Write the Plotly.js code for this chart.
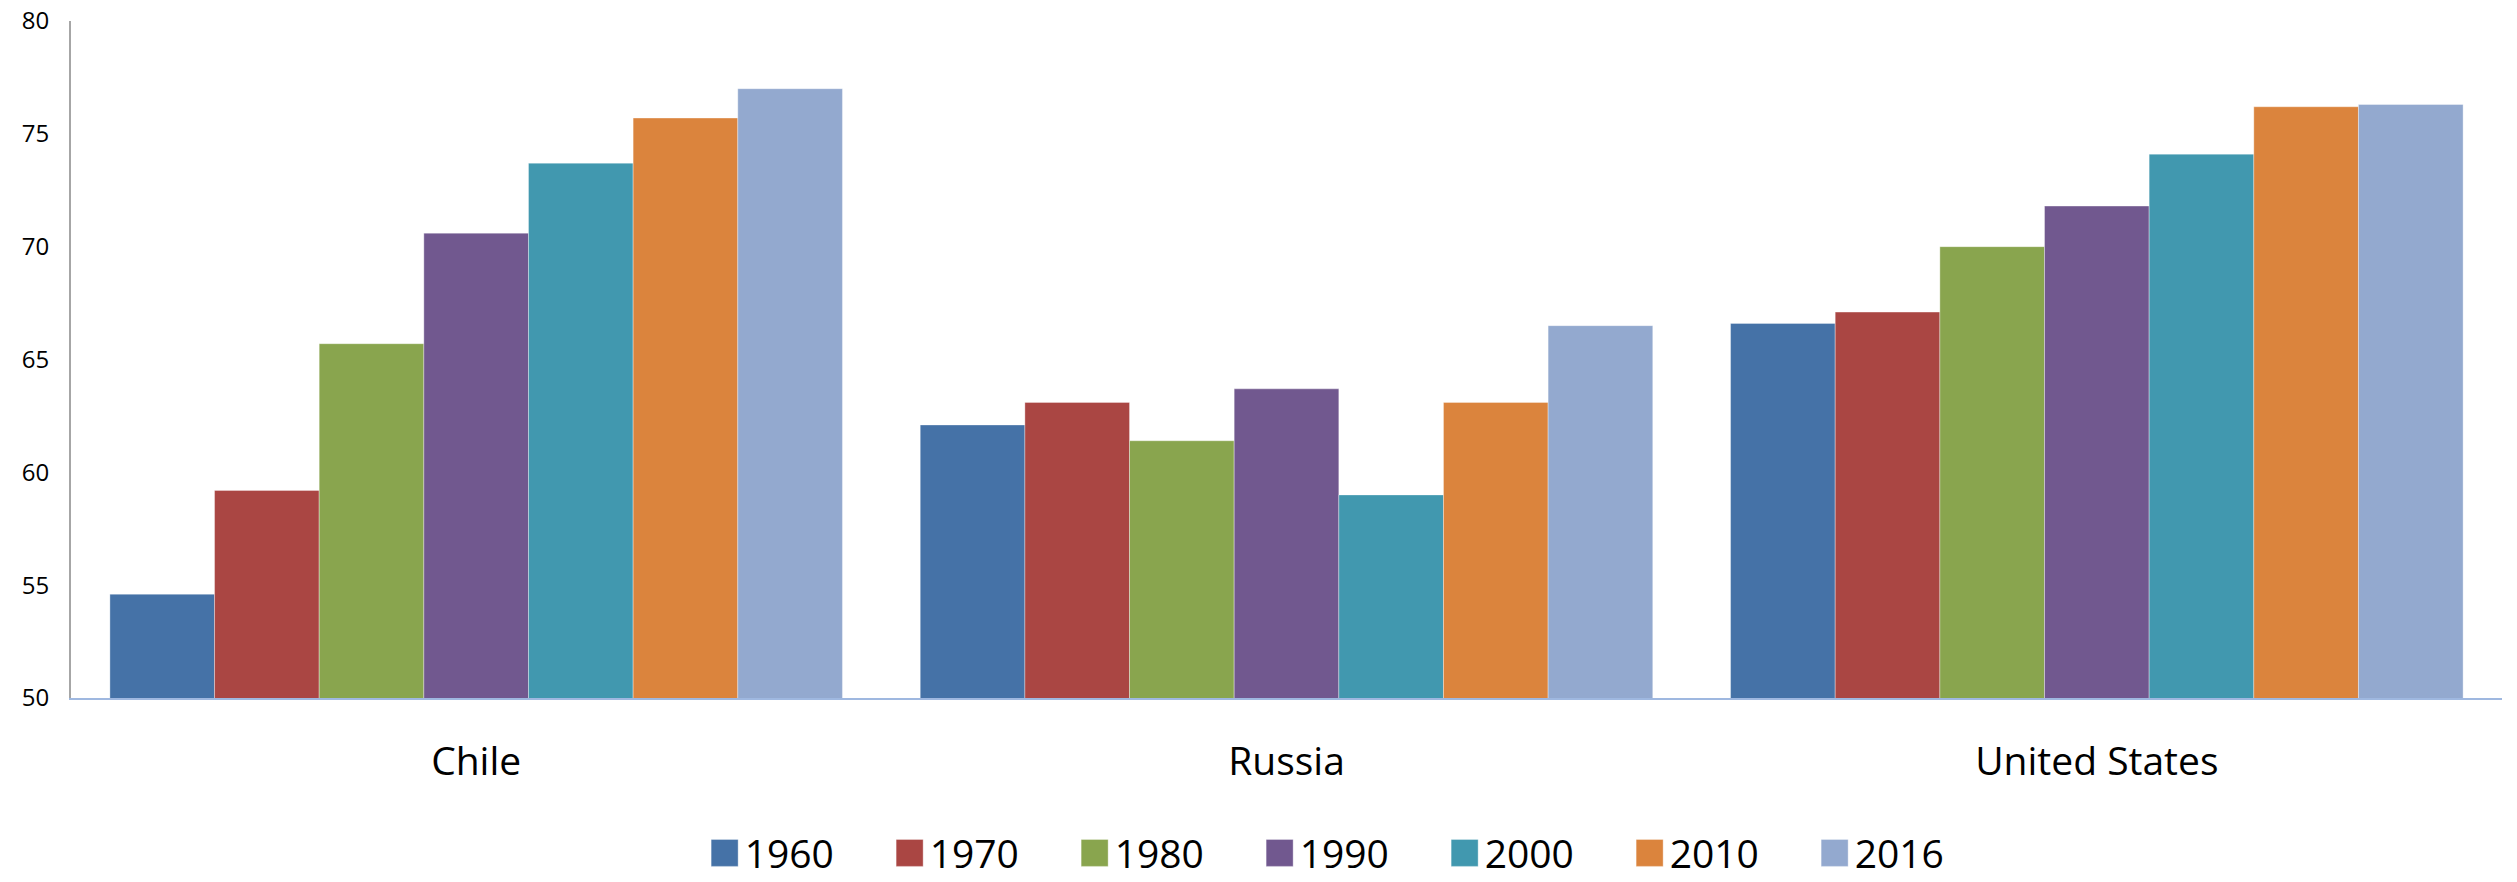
<!DOCTYPE html>
<html>
<head>
<meta charset="utf-8">
<script src="https://cdn.plot.ly/plotly-3.0.1.min.js"></script>
<style>
  html, body { margin: 0; padding: 0; background: #ffffff; }
  #chart { width: 2517px; height: 882px; }
</style>
</head>
<body>
<div id="chart"></div>
<script>
// Categories
const countries = ["Chile", "Russia", "United States"];
// Series (life expectancy, years) per decade
const years = ["1960", "1970", "1980", "1990", "2000", "2010", "2016"];
const v1960 = [54.6, 62.1, 66.6];
const v1970 = [59.2, 63.1, 67.1];
const v1980 = [65.7, 61.4, 70.0];
const v1990 = [70.6, 63.7, 71.8];
const v2000 = [73.7, 59.0, 74.1];
const v2010 = [75.7, 63.1, 76.2];
const v2016 = [77.0, 66.5, 76.3];
const seriesValues = [v1960, v1970, v1980, v1990, v2000, v2010, v2016];
const colors = ["#4572A7", "#AA4643", "#89A54E", "#71588F", "#4198AF", "#DB843D", "#93A9CF"];
const yTicks = [50, 55, 60, 65, 70, 75, 80];

const FONT = "Open Sans, Liberation Sans, sans-serif";

const traces = years.map((yr, i) => ({
  type: "bar",
  name: yr,
  x: countries,
  y: seriesValues[i],
  marker: { color: colors[i], line: { color: "rgba(255,255,255,0.35)", width: 1 } },
  hoverinfo: "x+y+name"
}));

const layout = {
  width: 2517,
  height: 882,
  paper_bgcolor: "#ffffff",
  plot_bgcolor: "#ffffff",
  margin: { l: 71, r: 15, t: 21, b: 184, autoexpand: false },
  barmode: "group",
  bargap: 0.096,
  bargroupgap: 0,
  font: { family: FONT, color: "#000000" },
  xaxis: {
    type: "category",
    showline: true,
    linecolor: "#9fb8e0",
    linewidth: 2,
    showgrid: false,
    zeroline: false,
    ticks: "",
    ticklabelstandoff: 28,
    automargin: false,
    tickfont: { family: FONT, size: 39, color: "#000000" }
  },
  yaxis: {
    range: [50, 80],
    tickvals: yTicks,
    ticktext: yTicks.map(String),
    showline: true,
    linecolor: "#a6a6a6",
    linewidth: 2,
    showgrid: false,
    zeroline: false,
    ticks: "",
    ticklabelstandoff: 15,
    automargin: false,
    tickfont: { family: FONT, size: 24, color: "#000000" }
  },
  showlegend: true,
  legend: {
    orientation: "h",
    x: 0.527,
    xanchor: "center",
    y: -0.229,
    yanchor: "middle",
    font: { family: FONT, size: 39, color: "#000000" },
    entrywidth: 140,
    itemwidth: 30,
    bgcolor: "rgba(0,0,0,0)"
  }
};

Plotly.newPlot("chart", traces, layout, { displayModeBar: false, staticPlot: true }).then(() => {
  document.querySelectorAll(".legendpoints path").forEach(p => {
    p.setAttribute("d", "M13.5,13.5H-13.5V-13.5H13.5Z");
  });
});
</script>
</body>
</html>
